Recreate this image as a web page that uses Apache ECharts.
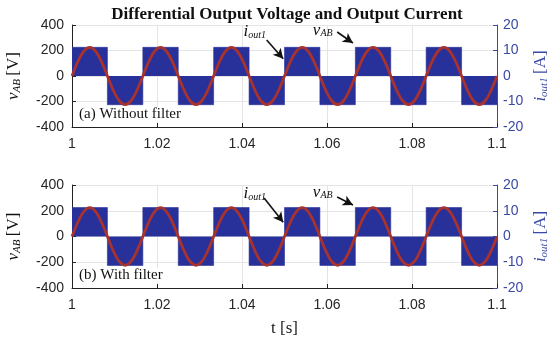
<!DOCTYPE html>
<html><head><meta charset="utf-8">
<script src="https://cdn.jsdelivr.net/npm/echarts@6/dist/echarts.min.js"></script>
<style>html,body{margin:0;padding:0;background:#fff}#c{width:550px;height:345px}</style>
</head><body><div id="c"></div>
<script>
// ---- data ----
const xTicks = [1, 1.02, 1.04, 1.06, 1.08, 1.1];
const vTicks = [-400, -200, 0, 200, 400];
const iTicks = [-20, -10, 0, 10, 20];
// square-wave vAB (switching instants, value held until next instant)
const tSquare = [1, 1.00833, 1.01667, 1.025, 1.03333, 1.04167, 1.05, 1.05833, 1.06667, 1.075, 1.08333, 1.09167, 1.1];
const vABa = [225, -225, 225, -225, 225, -225, 225, -225, 225, -225, 225, -225, -225];
const vABb = [225, -225, 225, -225, 225, -225, 225, -225, 225, -225, 225, -225, -225];
// output current samples
const tCurrent = [1.00000,1.00139,1.00278,1.00417,1.00556,1.00694,1.00833,1.00972,1.01111,1.01250,1.01389,1.01528,
  1.01667,1.01806,1.01944,1.02083,1.02222,1.02361,1.02500,1.02639,1.02778,1.02917,1.03056,1.03194,
  1.03333,1.03472,1.03611,1.03750,1.03889,1.04028,1.04167,1.04306,1.04444,1.04583,1.04722,1.04861,
  1.05000,1.05139,1.05278,1.05417,1.05556,1.05694,1.05833,1.05972,1.06111,1.06250,1.06389,1.06528,
  1.06667,1.06806,1.06944,1.07083,1.07222,1.07361,1.07500,1.07639,1.07778,1.07917,1.08056,1.08194,
  1.08333,1.08472,1.08611,1.08750,1.08889,1.09028,1.09167,1.09306,1.09444,1.09583,1.09722,1.09861,1.10000];
const iOutA = [0,5.6,9.7,11.2,9.7,5.6,0,-5.6,-9.7,-11.2,-9.7,-5.6,
  0,5.6,9.7,11.2,9.7,5.6,0,-5.6,-9.7,-11.2,-9.7,-5.6,
  0,5.6,9.7,11.2,9.7,5.6,0,-5.6,-9.7,-11.2,-9.7,-5.6,
  0,5.6,9.7,11.2,9.7,5.6,0,-5.6,-9.7,-11.2,-9.7,-5.6,
  0,5.6,9.7,11.2,9.7,5.6,0,-5.6,-9.7,-11.2,-9.7,-5.6,
  0,5.6,9.7,11.2,9.7,5.6,0,-5.6,-9.7,-11.2,-9.7,-5.6,0];
const iOutB = [0,5.6,9.7,11.2,9.7,5.6,0,-5.6,-9.7,-11.2,-9.7,-5.6,
  0,5.6,9.7,11.2,9.7,5.6,0,-5.6,-9.7,-11.2,-9.7,-5.6,
  0,5.6,9.7,11.2,9.7,5.6,0,-5.6,-9.7,-11.2,-9.7,-5.6,
  0,5.6,9.7,11.2,9.7,5.6,0,-5.6,-9.7,-11.2,-9.7,-5.6,
  0,5.6,9.7,11.2,9.7,5.6,0,-5.6,-9.7,-11.2,-9.7,-5.6,
  0,5.6,9.7,11.2,9.7,5.6,0,-5.6,-9.7,-11.2,-9.7,-5.6,0];
const panelLabels = ['(a) Without filter', '(b) With filter'];
// annotation anchors in data units (t, V)
const annA = {iText:[1.0430,345], iFrom:[1.0458,282], iTo:[1.0497,135], vText:[1.0590,358], vFrom:[1.0624,345], vTo:[1.0661,259]};
const annB = {iText:[1.0430,330], iFrom:[1.0452,299], iTo:[1.0497,110], vText:[1.0590,345], vFrom:[1.0624,307], vTo:[1.0661,245]};

// ---- styles ----
const BLUE = '#28309a';
const RED = '#a8322e';
const AXB = '#3a48a6';
const SERIF = 'Liberation Serif';
const SANS = 'Liberation Sans';
const rich = {
  it: {fontFamily: SERIF, fontStyle: 'italic', fontSize: 17, color: '#111'},
  sub: {fontFamily: SERIF, fontStyle: 'italic', fontSize: 11, color: '#111', verticalAlign: 'bottom', padding: [8,0,0,0]},
  n: {fontFamily: SERIF, fontSize: 17, color: '#111'},
  itB: {fontFamily: SERIF, fontStyle: 'italic', fontSize: 17, color: AXB},
  subB: {fontFamily: SERIF, fontStyle: 'italic', fontSize: 11, color: AXB, padding: [8,0,0,0]},
  nB: {fontFamily: SERIF, fontSize: 17, color: AXB},
  ai: {fontFamily: SERIF, fontStyle: 'italic', fontSize: 17, color: '#111'},
  as: {fontFamily: SERIF, fontStyle: 'italic', fontSize: 10, color: '#111', padding: [7,0,0,0]}
};

const grids = [
  {left: 72, right: 53, top: 25, height: 102, outerBoundsMode: 'none', containLabel: false},
  {left: 72, right: 53, top: 185, height: 103, outerBoundsMode: 'none', containLabel: false}
];

function xAx(i) {
  return {
    type: 'value', gridIndex: i, min: 1, max: 1.1, interval: 0.02,
    axisLine: {onZero: false, lineStyle: {color: '#222', width: 1}},
    axisTick: {inside: true, length: 4, lineStyle: {color: '#222'}},
    axisLabel: {fontFamily: SANS, fontSize: 14, color: '#262626', margin: 10,
      formatter: v => { const m = xTicks.find(t => Math.abs(t - v) < 1e-6); return m === undefined ? '' : String(m); }},
    splitLine: {show: true, lineStyle: {color: '#e4e4e4', width: 1}},
    name: i === 1 ? 't [s]' : '', nameLocation: 'middle', nameGap: 32,
    nameTextStyle: {fontFamily: SERIF, fontSize: 17, color: '#222'}
  };
}
function yLeft(i) {
  return {
    type: 'value', gridIndex: i, min: vTicks[0], max: vTicks[vTicks.length-1], interval: 200, position: 'left',
    axisLine: {show: true, onZero: false, lineStyle: {color: '#222'}},
    axisTick: {show: true, inside: true, length: 4, lineStyle: {color: '#222'}},
    axisLabel: {fontFamily: SANS, fontSize: 14, color: '#262626', margin: 8},
    splitLine: {show: true, lineStyle: {color: '#e4e4e4'}},
    name: '{it|v}{sub|AB} {n|[V]}', nameLocation: 'middle', nameGap: 49, nameRotate: 90,
    nameTextStyle: {rich: rich}
  };
}
function yRight(i) {
  return {
    type: 'value', gridIndex: i, min: iTicks[0], max: iTicks[iTicks.length-1], interval: 10, position: 'right',
    axisLine: {show: true, onZero: false, lineStyle: {color: AXB}},
    axisTick: {show: true, inside: true, length: 4, lineStyle: {color: AXB}},
    axisLabel: {fontFamily: SANS, fontSize: 14, color: AXB, margin: 6},
    splitLine: {show: false},
    name: '{itB|i}{subB|out1} {nB|[A]}', nameLocation: 'middle', nameGap: 34, nameRotate: 90,
    nameMoveOverlap: false,
    nameTextStyle: {rich: rich}
  };
}

function annotations(a) {
  return {
    markLine: {
      silent: true, symbol: ['none', 'arrow'], symbolSize: [8, 10],
      lineStyle: {color: '#111', width: 1.6, type: 'solid'},
      label: {show: false},
      data: [
        [{coord: a.iFrom}, {coord: a.iTo}],
        [{coord: a.vFrom}, {coord: a.vTo}]
      ]
    },
    markPoint: {
      silent: true, symbol: 'circle', symbolSize: 0,
      label: {show: true, position: 'inside', rich: rich},
      data: [
        {coord: a.iText, label: {formatter: '{ai|i}{as|out1}'}},
        {coord: a.vText, label: {formatter: '{ai|v}{as|AB}'}}
      ]
    }
  };
}

function squareSeries(i, vals, ann) {
  return Object.assign({
    type: 'line', xAxisIndex: i, yAxisIndex: i*2, step: 'end', symbol: 'none',
    data: tSquare.map((t, k) => [t, vals[k]]),
    lineStyle: {color: BLUE, width: 0.6}, areaStyle: {color: BLUE, opacity: 1}, z: 2
  }, annotations(ann));
}
function currentSeries(i, vals) {
  return {
    type: 'line', xAxisIndex: i, yAxisIndex: i*2+1, smooth: 0.35, symbol: 'none',
    data: tCurrent.map((t, k) => [t, vals[k]]),
    lineStyle: {color: RED, width: 2.8}, z: 3
  };
}

const chart = echarts.init(document.getElementById('c'), null, {renderer: 'canvas'});
chart.setOption({
  animation: false,
  backgroundColor: '#fff',
  title: {text: 'Differential Output Voltage and Output Current', left: 282, top: 1, textAlign: 'center',
    textStyle: {fontFamily: SERIF, fontWeight: 'bold', fontSize: 17, color: '#111'}},
  grid: grids,
  xAxis: [xAx(0), xAx(1)],
  yAxis: [yLeft(0), yRight(0), yLeft(1), yRight(1)],
  graphic: [],
  series: [
    squareSeries(0, vABa, annA), currentSeries(0, iOutA),
    squareSeries(1, vABb, annB), currentSeries(1, iOutB)
  ]
});
// panel labels placed in data coordinates
function placeLabels() {
  const pos = [chart.convertToPixel({gridIndex: 0}, [1.0012, -300]), chart.convertToPixel({gridIndex: 1}, [1.0012, -300])];
  chart.setOption({graphic: panelLabels.map((txt, i) => ({
    type: 'text', x: pos[i][0], y: pos[i][1], z: 10,
    style: {text: txt, fontFamily: SERIF, fontSize: 15, fill: '#111', backgroundColor: '#fff', verticalAlign: 'middle', padding: [0, 2, 0, 2]}
  }))});
}
placeLabels();
</script>
</body></html>
